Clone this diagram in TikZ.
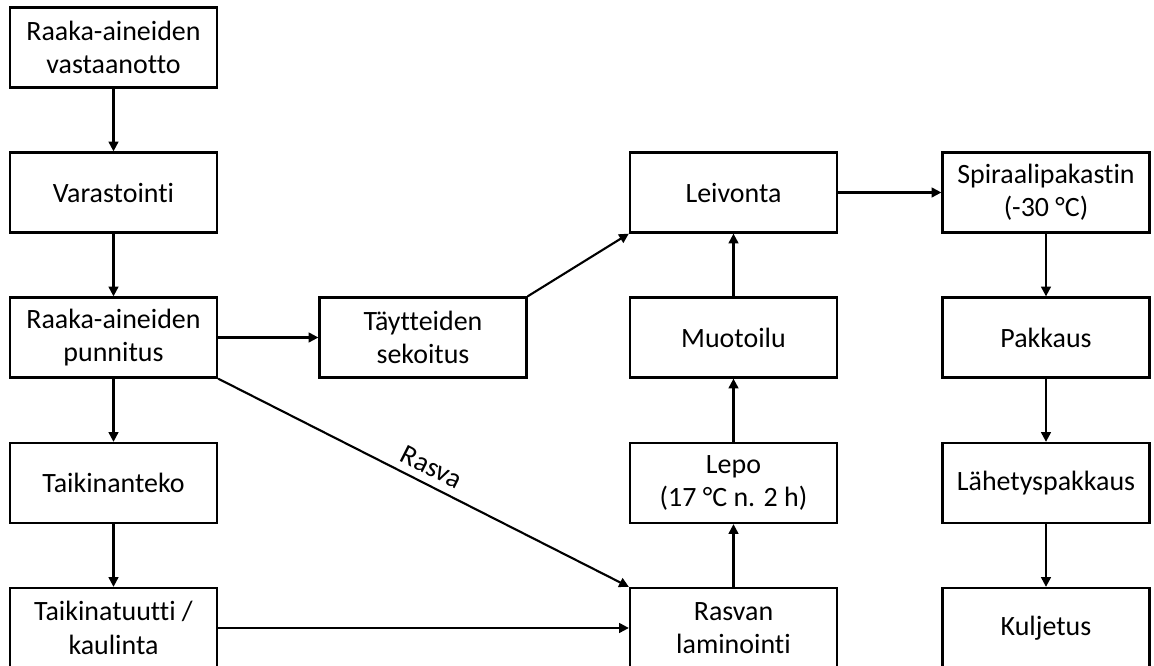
\documentclass[tikz,border=0pt]{standalone}
\usepackage{fontspec}
\setmainfont{Carlito}[Ligatures=NoCommon]
\usetikzlibrary{arrows.meta}

\begin{document}
\begin{tikzpicture}[
    stepbox/.style={draw, line width=1.3pt, minimum width=4.14cm, minimum height=1.6cm,
        inner sep=0pt, align=center, font=\fontsize{15.9}{19}\selectfont},
    flow/.style={line width=1.2pt, -{Triangle[length=5.5pt, width=5.5pt]}}
]
    % Define column and row positions
    \def\colA{2.27}
    \def\colB{8.46}
    \def\colC{14.67}
    \def\colD{20.92}

    % Fix the picture size
    \useasboundingbox (0,0) rectangle (23.08,-13.32);

    % Draw first column
    \node[stepbox] (vastaanotto) at (\colA,-0.95) {Raaka-aineiden\\vastaanotto};
    \node[stepbox] (varastointi) at (\colA,-3.85) {Varastointi};
    \node[stepbox] (punnitus) at (\colA,-6.75) {Raaka-aineiden\\punnitus};
    \node[stepbox] (taikinanteko) at (\colA,-9.66) {Taikinanteko};
    \node[stepbox] (kaulinta) at (\colA,-12.56) {Taikinatuutti /\\kaulinta};

    % Draw filling box
    \node[stepbox] (sekoitus) at (\colB,-6.75) {Täytteiden\\sekoitus};

    % Draw third column
    \node[stepbox] (leivonta) at (\colC,-3.85) {Leivonta};
    \node[stepbox] (muotoilu) at (\colC,-6.75) {Muotoilu};
    \node[stepbox] (lepo) at (\colC,-9.66) {Lepo\\(17 °C n. 2 h)};
    \node[stepbox] (laminointi) at (\colC,-12.56) {Rasvan\\laminointi};

    % Draw fourth column
    \node[stepbox] (pakastin) at (\colD,-3.85) {Spiraalipakastin\\(-30 °C)};
    \node[stepbox] (pakkaus) at (\colD,-6.75) {Pakkaus};
    \node[stepbox] (lahetys) at (\colD,-9.66) {Lähetyspakkaus};
    \node[stepbox] (kuljetus) at (\colD,-12.56) {Kuljetus};

    % Draw arrows
    \draw[flow] (vastaanotto) -- (varastointi);
    \draw[flow] (varastointi) -- (punnitus);
    \draw[flow] (punnitus) -- (taikinanteko);
    \draw[flow] (taikinanteko) -- (kaulinta);
    \draw[flow] (punnitus) -- (sekoitus);
    \draw[flow] (sekoitus.north east) -- (leivonta.south west);
    \draw[flow] (punnitus.south east) -- (laminointi.north west)
        node[midway, above=1pt, sloped, font=\fontsize{15.9}{19}\selectfont] {Rasva};
    \draw[flow] (kaulinta) -- (laminointi);
    \draw[flow] (laminointi) -- (lepo);
    \draw[flow] (lepo) -- (muotoilu);
    \draw[flow] (muotoilu) -- (leivonta);
    \draw[flow] (leivonta) -- (pakastin);
    \draw[flow] (pakastin) -- (pakkaus);
    \draw[flow] (pakkaus) -- (lahetys);
    \draw[flow] (lahetys) -- (kuljetus);

\end{tikzpicture}
\end{document}
